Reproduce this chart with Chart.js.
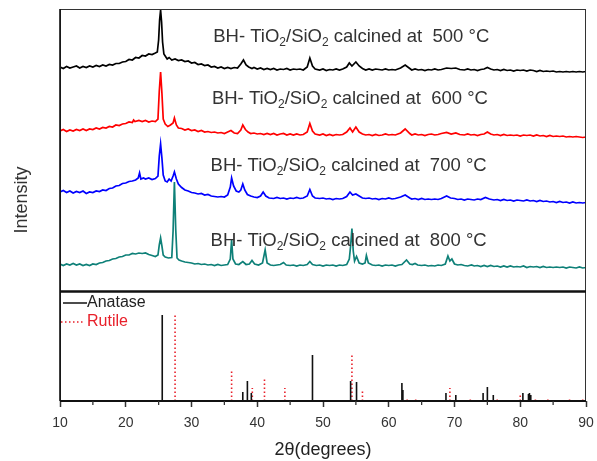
<!DOCTYPE html>
<html><head><meta charset="utf-8">
<script src="https://cdn.jsdelivr.net/npm/chart.js@4.4.0/dist/chart.umd.min.js"></script>
<style>html,body{margin:0;padding:0;background:#fff}</style>
</head><body>
<canvas id="c" width="597" height="461"></canvas>
<script>
// ---- data ----
const xTicks = [10, 20, 30, 40, 50, 60, 70, 80, 90];
const xMinorTicks = [15, 25, 35, 45, 55, 65, 75, 85];
const temps = [500, 600, 700, 800];

const s500 = [[10,224],[10.5,222.5],[11,224.5],[11.5,223],[12,224],[12.5,225],[13,223],[13.5,224.5],[14,223.5],[14.5,225],[15,224],[15.5,225.5],[16,224.5],[16.5,226],[17,225],[17.5,226.5],[18,226],[18.5,227.5],[19,227.5],[19.5,229],[20,229.5],[20.5,231.5],[21,231],[21.5,233.5],[22,233],[22.5,235.5],[23,235],[23.5,237],[24,236.5],[24.5,238],[24.8,239],[25.0,251],[25.15,271],[25.3,281],[25.45,269],[25.6,249],[25.8,237],[26,235],[26.3,232],[26.6,233.5],[27,231],[27.5,232],[28,230.5],[28.5,231],[29,229.5],[29.5,230],[30,228],[30.5,228.5],[31,226.5],[31.5,227],[32,225.5],[32.5,226],[33,224],[33.5,224.5],[34,223],[34.5,224],[35,222.5],[35.5,223.5],[36,222.5],[36.5,223.5],[37,223],[37.5,227],[37.9,231],[38.3,226],[38.7,224],[39.2,222.5],[39.5,223.5],[40,222],[40.5,223],[41,221.5],[41.5,222.5],[42,221.5],[42.5,222.5],[43,221],[43.5,222],[44,221.5],[44.5,222.5],[45,221],[45.5,222],[46,221.5],[46.5,222],[47,221],[47.6,224],[48,233],[48.4,225],[48.8,222],[49.5,221],[50,222],[50.5,220.5],[51,221.5],[51.5,221],[52,222],[52.5,221],[53,222],[53.6,224],[54,228],[54.4,225],[55,229],[55.5,225],[56,222.5],[56.5,221],[57,222],[57.5,221],[58,222],[58.5,221.5],[59,221],[59.5,222],[60,221],[60.5,221.5],[61,221],[61.8,223],[62.5,226],[63.2,222.5],[63.5,221],[64,222],[64.5,221],[65,221.5],[65.5,220.5],[66,221.5],[66.5,221],[67,222],[67.5,221],[68,221.5],[68.8,223],[69.5,222.5],[70.2,223],[70.8,221.5],[71.5,221],[72,222],[72.5,221],[73,221.5],[73.5,220.5],[74,221.5],[74.5,222],[75,223.5],[75.5,222],[76,221],[76.5,221.5],[77,220.5],[77.5,221.5],[78,220.5],[78.5,221],[79,220],[79.5,221],[80,220.5],[80.5,221],[81,220],[81.5,221],[82,220.5],[82.5,219.5],[83,220.5],[83.5,219.5],[84,220],[84.5,219.5],[85,220],[85.5,219],[86,219.5],[86.5,219],[87,219.5],[87.5,219],[88,219.5],[88.5,219],[89,219.5],[89.5,219],[90,219.5]];

const s600 = [[10,160],[10.5,161.5],[11,159.5],[11.5,161],[12,160],[12.5,161.5],[13,160.5],[13.5,162],[14,160.5],[14.5,162],[15,161.5],[15.5,163],[16,162],[16.5,163.5],[17,163],[17.5,164.5],[18,164],[18.5,166],[19,165.5],[19.5,167],[20,167.5],[20.5,169],[21,168.5],[21.2,171],[21.4,169.5],[22,170.5],[22.5,169.5],[23,170.5],[23.5,169],[24,170],[24.5,169.5],[24.9,172],[25.1,200],[25.3,219],[25.5,198],[25.7,172],[26,167],[26.4,164.5],[26.8,166],[27.2,168],[27.4,173],[27.7,166],[28,163],[28.5,162.5],[29,161],[29.5,162],[30,160.5],[30.5,161],[31,159.5],[31.5,160.5],[32,159],[32.5,159.5],[33,158.5],[33.5,159],[34,158],[34.5,158.5],[35,157.5],[35.5,159],[36,160.5],[36.5,158],[37,157.5],[37.5,161],[37.8,166],[38.2,161.5],[38.6,159],[39,157.5],[39.5,158],[40,157],[40.5,157.5],[41,156.5],[41.5,157.5],[42,156.5],[42.5,157.5],[43,156],[43.5,157],[44,157.5],[44.5,156],[45,157],[45.5,156],[46,157],[46.5,156],[47,156.5],[47.6,159],[48,167.5],[48.4,160],[48.8,157],[49.5,156],[50,157],[50.5,155.5],[51,156.5],[51.5,155.5],[52,156.5],[52.5,156],[53,156.5],[53.6,159],[54.1,163],[54.5,159],[55,164],[55.5,159],[56,157],[56.5,156],[57,156.5],[57.5,155.5],[58,156.5],[58.5,155.5],[59,156],[59.5,157],[60,156],[60.5,156.5],[61,156],[61.8,158],[62.5,162],[63.2,157.5],[63.5,156],[64,157],[64.5,156],[65,156.5],[65.5,155.5],[66,156.5],[66.5,157],[67,156],[67.5,156.5],[68,157.5],[68.8,158.5],[69.5,157],[70.2,158],[70.8,156.5],[71.5,156],[72,157],[72.5,156],[73,156.5],[73.5,155.5],[74,156.5],[74.5,157],[75,159],[75.5,157],[76,156],[76.5,156.5],[77,155.5],[77.5,156.5],[78,155.5],[78.5,156],[79,155.5],[79.5,156],[80,155],[80.5,156],[81,155.5],[81.5,156],[82,155],[82.5,156],[83,155],[83.5,155.5],[84,154.5],[84.5,155.5],[85,154.5],[85.5,155],[86,154.5],[86.5,155],[87,154],[87.5,154.5],[88,154],[88.5,154.5],[89,154],[89.5,153.5],[90,154]];

const s700 = [[10,99],[10.5,100.5],[11,98.5],[11.5,100],[12,98],[12.5,99.5],[13,98.5],[13.5,100],[14,97.5],[14.5,99],[15,98.5],[15.5,100],[16,99.5],[16.5,101],[17,100.5],[17.5,102.5],[18,103],[18.5,105],[19,105.5],[19.5,107.5],[20,108],[20.5,109.5],[21,110],[21.5,111],[21.9,113],[22.1,118],[22.3,112],[22.7,113],[23,112],[23.5,113],[24,111.5],[24.5,112.5],[24.9,115],[25.1,135],[25.3,147],[25.5,133],[25.7,116],[26,110],[26.3,109],[26.6,112],[26.9,110],[27.2,115],[27.4,119],[27.7,112],[28,107],[28.5,103.5],[29,101],[29.5,100],[30,98.5],[30.5,98],[31,97],[31.5,97.5],[32,96],[32.5,96.5],[33,95],[33.5,94.5],[34,94],[34.5,94.5],[35,94],[35.5,96],[35.9,104],[36.1,113],[36.4,105],[36.8,100],[37.2,99],[37.5,101],[37.8,107],[38.1,101],[38.5,96.5],[39,95],[39.5,94],[40,93.5],[40.5,95],[40.9,99],[41.3,95],[41.8,93],[42.5,92.5],[43,93.5],[43.5,92.5],[44,93],[44.5,92],[45,93],[45.5,92.5],[46,93.5],[46.5,92.5],[47,93],[47.6,95],[48,101.5],[48.4,95],[48.8,93],[49.5,92.5],[50,93],[50.5,92],[51,92.5],[51.5,91.5],[52,92.5],[52.5,92],[53,92.5],[53.6,94.5],[54.1,99],[54.5,96],[55,97],[55.5,95],[56,93],[56.5,92.5],[57,93],[57.5,92],[58,92.5],[58.5,91.5],[59,92.5],[59.5,92],[60,93],[60.5,92],[61,92.5],[61.8,94],[62.5,96],[63.2,93],[63.5,92],[64,92.5],[64.5,91.5],[65,92.5],[65.5,91.5],[66,92],[66.5,91.5],[67,92],[67.5,91.5],[68,92.5],[68.8,95],[69.4,93],[70,92.5],[70.5,91.5],[71,92],[71.5,91],[72,92],[72.5,91.5],[73,91],[73.5,92],[74,91.5],[74.7,93.5],[75.3,92],[76,91],[76.5,91.5],[77,90.5],[77.5,91.5],[78,90.5],[78.5,91],[79,90],[79.5,91],[80,90.5],[80.5,90],[81,91],[81.5,90],[82,90.5],[82.5,89.5],[83,90.5],[83.5,89.5],[84,90],[84.5,89],[85,89.5],[85.5,88.5],[86,89.5],[86.5,88.5],[87,89],[87.5,88],[88,89],[88.5,88],[89,88.5],[89.5,88],[90,88.5]];

const s800 = [[10,27],[10.5,25.5],[11,27],[11.5,26],[12,27.5],[12.5,26],[13,27],[13.5,25.5],[14,26.5],[14.5,25.5],[15,27],[15.5,26.5],[16,28],[16.5,28.5],[17,30],[17.5,30.5],[18,32],[18.5,32.5],[19,34],[19.5,34.5],[20,36],[20.5,36],[21,37.5],[21.5,37],[22,38],[22.5,37.5],[23,38],[23.5,36.5],[24,35.5],[24.5,34.5],[24.9,36],[25.1,46],[25.3,53],[25.5,45],[25.7,36],[26,34],[26.5,33],[27,33.5],[27.2,60],[27.4,109],[27.6,62],[27.8,33],[28.1,31],[28.5,30],[29,29],[29.5,28.5],[30,28],[30.5,27],[31,27.5],[31.5,26.5],[32,27],[32.5,26],[33,26.5],[33.5,25.5],[34,26.5],[34.5,25.5],[35,26],[35.5,26.5],[35.9,32],[36.1,51],[36.3,32],[36.7,27],[37.2,26.5],[37.8,29.5],[38.3,26.5],[38.8,27],[39.2,30.5],[39.6,27],[40.2,26],[40.8,28],[41.2,41],[41.5,28],[42,26],[42.5,25.5],[43,26],[43.5,26.5],[44,28.5],[44.4,26],[45,25.5],[45.5,26],[46,25],[46.5,26],[47,25.5],[47.6,26.5],[48,29.5],[48.4,26.5],[49,25.5],[49.5,26],[50,25],[50.5,26],[51,25.5],[51.5,26],[52,25],[52.5,26],[53,25.5],[53.6,26.5],[54.0,32],[54.2,45],[54.4,62.5],[54.6,40],[54.8,30],[55.1,34.5],[55.5,28],[56,27],[56.4,28],[56.6,35.5],[56.9,28],[57.5,26],[58,25.5],[58.5,26],[59,25],[59.5,26],[60,25.5],[60.5,26],[61,25],[61.5,26],[62,26.5],[62.7,31],[63.2,27],[63.6,26.5],[64,27.5],[64.4,26],[65,25.5],[65.5,26],[66,25],[66.5,25.5],[67,25],[67.5,26],[68,25.5],[68.6,27],[69,35],[69.3,30],[69.6,32],[70,27],[70.5,26],[71,26.5],[71.5,25.5],[72,25],[72.6,26],[73,25],[73.5,25.5],[74,24.5],[74.5,25.5],[75,24.5],[75.5,25.5],[76,24.5],[76.5,25],[77,24],[77.5,25],[78,24],[78.5,25],[79,24],[79.5,24.5],[80,24],[80.5,25],[81,23.5],[81.5,24.5],[82,24],[82.5,24.5],[83,23.5],[83.5,24.5],[84,23.5],[84.5,24],[85,23.5],[85.5,24],[86,23.5],[86.5,24],[87,23],[87.5,24],[88,23.5],[88.5,23],[89,24],[89.5,23],[90,23.5]];

// reference patterns: [2θ, relative intensity]
const anatase = [[25.55,86],[37.8,9],[38.5,20],[39.1,8],[48.4,46],[54.2,20],[55.1,19],[62.0,18],[62.15,11],[68.7,8],[70.2,6],[74.35,8],[75.0,14],[75.9,6],[80.4,8],[81.25,7],[81.4,8],[81.6,6]];
const rutile = [[27.5,88],[36.1,32],[39.25,13],[41.1,24],[44.2,13],[54.4,47],[56.0,12],[62.8,3],[64.1,4],[69.3,13],[72.4,3],[76.5,3],[80.0,6],[82.3,2],[84.2,3],[87.5,2],[89.5,2]];

// ---- helpers ----
const toXY = s => s.map(p => ({x: p[0], y: p[1]}));
const sticks = arr => { const o = []; arr.forEach(([a, h]) => { o.push({x: a, y: 0}, {x: a, y: h}, {x: a, y: null}); }); return o; };

const FONT = '"Liberation Sans", Arial, sans-serif';
const seriesColors = ['#000000', '#ff0000', '#0000ff', '#0e8078'];
const spectra = [s500, s600, s700, s800];

const datasets = spectra.map((s, i) => ({
  label: temps[i] + ' °C', data: toXY(s), yAxisID: 'yTop',
  borderColor: seriesColors[i], borderWidth: 1.7, pointRadius: 0, tension: 0, fill: false
}));
datasets.push({label: 'Anatase', data: sticks(anatase), yAxisID: 'yBot', borderColor: '#111', borderWidth: 1.6, pointRadius: 0, spanGaps: false});
datasets.push({label: 'Rutile', data: sticks(rutile), yAxisID: 'yBot', borderColor: '#e8202a', borderWidth: 1.6, borderDash: [1.5, 2.5], pointRadius: 0, spanGaps: false});

// label anchors (axis units)
const labelPos = [[33.3, 254], [33.1, 192], [32.9, 125], [32.9, 50]];

const decor = {
  id: 'decor',
  afterDatasetsDraw(chart) {
    const {ctx, chartArea: ca, scales} = chart;
    const x = scales.x, yT = scales.yTop;
    ctx.save();
    // frame
    ctx.strokeStyle = '#333'; ctx.lineWidth = 1;
    ctx.strokeRect(ca.left + 0.5, ca.top + 0.5, ca.right - ca.left - 1, ca.bottom - ca.top);
    ctx.strokeStyle = '#111'; ctx.lineWidth = 1.6;
    ctx.beginPath(); ctx.moveTo(ca.left, ca.top); ctx.lineTo(ca.left, ca.bottom); ctx.stroke();
    ctx.lineWidth = 2;
    ctx.beginPath(); ctx.moveTo(ca.left, ca.bottom); ctx.lineTo(ca.right, ca.bottom); ctx.stroke();
    // separator
    ctx.lineWidth = 2.6; ctx.strokeStyle = '#111';
    ctx.beginPath(); ctx.moveTo(ca.left, yT.bottom + 0.5); ctx.lineTo(ca.right, yT.bottom + 0.5); ctx.stroke();
    // minor ticks
    ctx.lineWidth = 1.3; ctx.strokeStyle = '#333';
    xMinorTicks.forEach(v => { const px = x.getPixelForValue(v); ctx.beginPath(); ctx.moveTo(px, ca.bottom); ctx.lineTo(px, ca.bottom + 4); ctx.stroke(); });
    // annotations
    ctx.fillStyle = '#333'; ctx.textBaseline = 'middle';
    temps.forEach((t, i) => {
      let px = x.getPixelForValue(labelPos[i][0]);
      const py = yT.getPixelForValue(labelPos[i][1]);
      const parts = [['BH- TiO', 0], ['2', 1], ['/SiO', 0], ['2', 1], [' calcined at  ' + t + ' °C', 0]];
      parts.forEach(([s, sub]) => {
        ctx.font = (sub ? '12px ' : '18.5px ') + FONT;
        ctx.fillText(s, px, py + (sub ? 6 : 0));
        px += ctx.measureText(s).width;
      });
    });
    // legend
    ctx.font = '16px ' + FONT;
    const lx = ca.left, ly1 = yT.bottom + 12, ly2 = yT.bottom + 31;
    ctx.strokeStyle = '#111'; ctx.lineWidth = 1.5;
    ctx.beginPath(); ctx.moveTo(lx + 3, ly1); ctx.lineTo(lx + 27, ly1); ctx.stroke();
    ctx.fillStyle = '#222'; ctx.fillText('Anatase', lx + 27, ly1);
    ctx.strokeStyle = '#e8202a'; ctx.setLineDash([1.5, 2.5]);
    ctx.beginPath(); ctx.moveTo(lx + 1, ly2); ctx.lineTo(lx + 23, ly2); ctx.stroke();
    ctx.setLineDash([]);
    ctx.fillStyle = '#e8202a'; ctx.fillText('Rutile', lx + 27, ly2);
    // y title
    ctx.save();
    ctx.translate(22, (ca.top + ca.bottom) / 2 - 5);
    ctx.rotate(-Math.PI / 2);
    ctx.textAlign = 'center'; ctx.fillStyle = '#333'; ctx.font = '18px ' + FONT;
    ctx.fillText('Intensity', 0, 0);
    ctx.restore();
    ctx.restore();
  }
};

new Chart(document.getElementById('c'), {
  type: 'line',
  data: {datasets},
  options: {
    responsive: false, animation: false, devicePixelRatio: 1,
    layout: {padding: {left: 60, right: 11, top: 9, bottom: 0}},
    plugins: {legend: {display: false}, tooltip: {enabled: false}},
    scales: {
      x: {
        type: 'linear', min: 10, max: 90, position: 'bottom',
        afterBuildTicks: s => { s.ticks = xTicks.map(v => ({value: v})); },
        ticks: {font: {family: FONT, size: 14}, color: '#333', padding: 8, maxRotation: 0, autoSkip: false},
        grid: {drawOnChartArea: false, tickLength: 6, tickWidth: 1.5, tickColor: '#333'},
        border: {display: false},
        title: {display: true, text: '2θ(degrees)', font: {family: FONT, size: 18}, color: '#222', padding: {top: 0, bottom: 0}},
        afterFit: s => { s.height = 60; s.paddingLeft = 0; s.paddingRight = 0; }
      },
      yBot: {
        type: 'linear', position: 'left', min: 0, max: 110, stack: 'panels', stackWeight: 110,
        ticks: {display: false}, grid: {display: false}, border: {display: false},
        afterFit: s => { s.width = 0; }
      },
      yTop: {
        type: 'linear', position: 'left', min: 0, max: 282, stack: 'panels', stackWeight: 282,
        ticks: {display: false}, grid: {display: false}, border: {display: false},
        afterFit: s => { s.width = 0; }
      }
    }
  },
  plugins: [decor]
});
</script>
</body></html>
